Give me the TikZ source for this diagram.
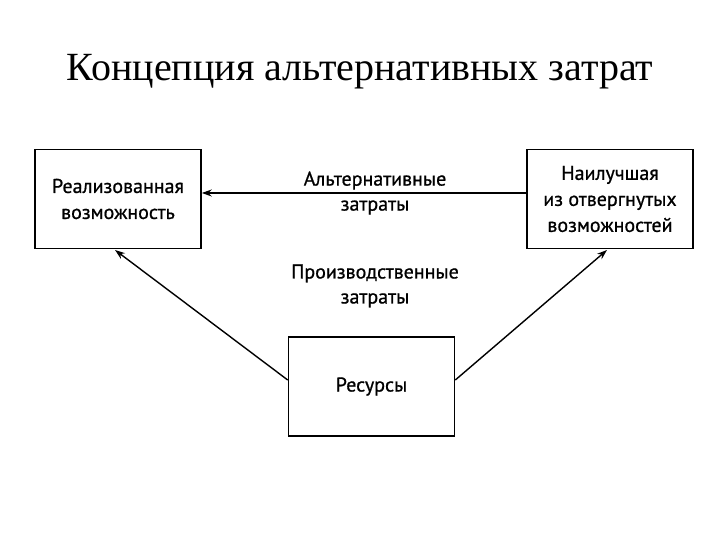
\documentclass[tikz,border=0pt]{standalone}
\usepackage{fontspec}
\setmainfont{Liberation Serif}
\newfontfamily\boxfont[FakeBold=0.8]{PT Sans}
\usetikzlibrary{arrows.meta}
\begin{document}
\begin{tikzpicture}[x=1pt,y=1pt,
  box/.style={draw, line width=1.6pt, minimum width=166pt, minimum height=99pt, align=center, font=\boxfont\fontsize{20}{26}\selectfont, inner sep=0pt},
  lbl/.style={align=center, font=\boxfont\fontsize{20}{25}\selectfont, inner sep=0pt},
  conn/.style={line width=1.4pt, -{Stealth[length=10pt,width=7pt]}}]
\useasboundingbox (0,0) rectangle (720,540);
\node[font=\fontsize{40}{44}\selectfont] (title) at (360,468) {Концепция альтернативных затрат};
\node[box] (real) at (118,341) {Реализованная\\возможность};
\node[box] (best) at (610,341) {Наилучшая\\из отвергнутых\\возможностей};
\node[box] (res) at (371.5,153.5) {Ресурсы};
\coordinate (la) at (115,290);
\coordinate (ra) at (607,290);
\draw[conn] (best.west |- 0,347) -- (real.east |- 0,347);
\draw[conn] (res.west |- 0,160) -- (la);
\draw[conn] (res.east |- 0,160) -- (ra);
\node[lbl] (alt) at (375,347) {Альтернативные\\затраты};
\node[lbl] (prod) at (375,254) {Производственные\\затраты};
\end{tikzpicture}
\end{document}
